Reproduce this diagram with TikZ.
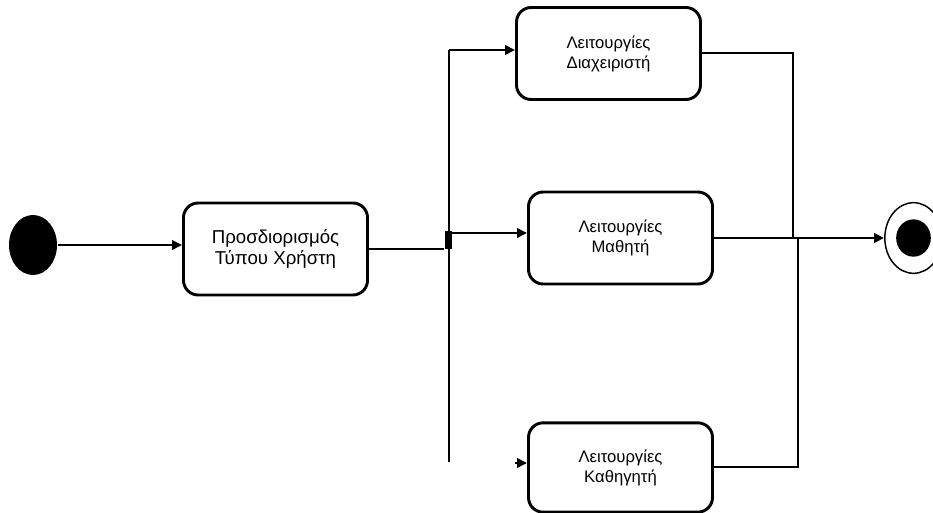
\documentclass[tikz,border=0pt]{standalone}
\usepackage{fontspec}
\setmainfont{Liberation Sans}
\usetikzlibrary{arrows.meta,shapes.geometric}
\begin{document}
\begin{tikzpicture}[x=0.75pt,y=-0.75pt,> = {Triangle[length=7.5pt,width=7pt]},line width=2.2pt,
	activity/.style={draw,rounded corners=11pt,minimum width=138pt,minimum height=69pt,align=center,font=\fontsize{12.5}{15}\selectfont},
	initial/.style={ellipse,fill=black,inner sep=0pt,minimum width=36pt,minimum height=45pt},
	mergeline/.style={line width=1.5pt}]
	\useasboundingbox (0,0) rectangle (933,513);
	\node[initial] (start) at (33,245) {};
	\node[activity,font=\fontsize{14}{15.75}\selectfont] (ident) at (275.5,249) {Προσδιορισμός\\Τύπου Χρήστη};
	\node[activity] (admin) at (608.5,53.5) {Λειτουργίες\\Διαχειριστή};
	\node[activity] (student) at (620.5,238) {Λειτουργίες\\Μαθητή};
	\node[activity,minimum height=67pt] (teacher) at (620.5,467.5) {Λειτουργίες\\Καθηγητή};
	\node[ellipse,draw,line width=1.1pt,inner sep=0pt,minimum width=43pt,minimum height=53pt] (end) at (913.5,238) {};
	\node[ellipse,fill=black,inner sep=0pt,minimum width=26pt,minimum height=28pt] (endin) at (913.5,238) {};
	\node[fill=black,inner sep=0pt,minimum width=5pt,minimum height=13.5pt] (fork) at (448.5,240) {};
	\coordinate (top) at (449,50);
	\coordinate (bottom) at (449,462);
	\coordinate (mid) at (449,233);
	\coordinate (tin) at (515,463);
	\coordinate (joinA) at (793,238);
	\coordinate (joinB) at (798,238);

	\draw[->] (start) -- (start -| ident.west);
	\draw (ident.east) -- (ident.east -| fork.west);
	\draw (bottom) -- (top);
	\draw[->] (top) -- (top -| admin.west);
	\draw[->] (mid) -- (mid -| student.west);
	\draw[->] (tin) -- (tin -| teacher.west);
	\draw[mergeline] (admin.east) -- (admin.east -| joinA) -- (joinA);
	\draw[mergeline] (teacher.east) -- (teacher.east -| joinB) -- (joinB);
	\draw[->] (student.east) -- (end);
\end{tikzpicture}
\end{document}
